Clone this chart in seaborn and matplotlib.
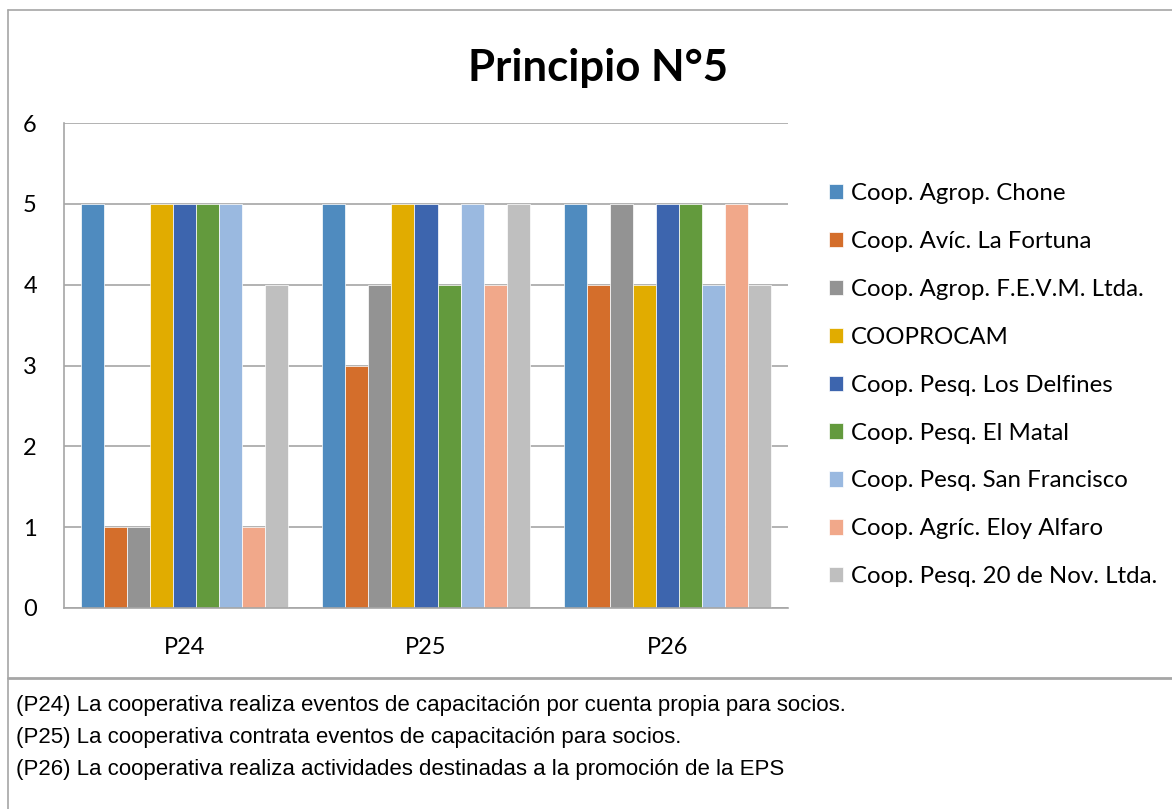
import matplotlib
matplotlib.use("Agg")
import matplotlib.pyplot as plt
import seaborn as sns
import pandas as pd
from matplotlib.lines import Line2D

categories = ["P24", "P25", "P26"]
series_names = [
    "Coop. Agrop. Chone",
    "Coop. Avíc. La Fortuna",
    "Coop. Agrop. F.E.V.M. Ltda.",
    "COOPROCAM",
    "Coop. Pesq. Los Delfines",
    "Coop. Pesq. El Matal",
    "Coop. Pesq. San Francisco",
    "Coop. Agríc. Eloy Alfaro",
    "Coop. Pesq. 20 de Nov. Ltda.",
]
chone = [5, 5, 5]
fortuna = [1, 3, 4]
fevm = [1, 4, 5]
cooprocam = [5, 5, 4]
delfines = [5, 5, 5]
matal = [5, 4, 5]
sanfrancisco = [5, 5, 4]
eloy = [1, 4, 5]
nov20 = [4, 5, 4]
series_values = [chone, fortuna, fevm, cooprocam, delfines, matal, sanfrancisco, eloy, nov20]
colors = ["#4F8BBF", "#D46E2B", "#939393", "#E1AC00", "#3D65AE",
          "#639A3D", "#9AB9E0", "#F1A88A", "#BFBFBF"]
y_ticks = [0, 1, 2, 3, 4, 5, 6]
title = "Principio N°5"
notes = [
    "(P24) La cooperativa realiza eventos de capacitación por cuenta propia para socios.",
    "(P25) La cooperativa contrata eventos de capacitación para socios.",
    "(P26) La cooperativa realiza actividades destinadas a la promoción de la EPS",
]

rows = []
for name, vals in zip(series_names, series_values):
    for c, v in zip(categories, vals):
        rows.append({"cat": c, "serie": name, "val": v})
df = pd.DataFrame(rows)

sns.set_theme(style="white")
plt.rcParams["font.family"] = ["Lato", "DejaVu Sans"]
plt.rcParams["text.color"] = "black"
plt.rcParams["xtick.color"] = "black"
plt.rcParams["ytick.color"] = "black"

W, H = 1172, 809
fig = plt.figure(figsize=(W / 100, H / 100), dpi=100)
ax = fig.add_axes([64 / W, 1 - 608 / H, (788 - 64) / W, (608 - 123) / H])

sns.barplot(data=df, x="cat", y="val", hue="serie", hue_order=series_names,
            order=categories, palette=colors, saturation=1, width=0.86, gap=0,
            edgecolor="white", linewidth=0.5, ax=ax, legend=True)

ax.set_ylim(0, 6)
ax.set_yticks(y_ticks)
ax.set_yticklabels([str(t) for t in y_ticks], fontsize=17)
ax.set_xlabel("")
ax.set_ylabel("")
ax.tick_params(axis="x", labelsize=17, length=0, pad=21, labelcolor="black")
ax.tick_params(axis="y", length=0, pad=19.5, labelcolor="black")
ax.yaxis.grid(True, color="#A6A6A6", linewidth=1.2)
ax.set_axisbelow(True)
for s in ["top", "right"]:
    ax.spines[s].set_visible(False)
for s in ["left", "bottom"]:
    ax.spines[s].set_color("#A6A6A6")
    ax.spines[s].set_linewidth(1.2)

handles, labels = ax.get_legend_handles_labels()
ax.legend(handles, labels, loc="upper left", bbox_to_anchor=(829 / W, 1 - 183 / H),
          bbox_transform=fig.transFigure, frameon=False, fontsize=17.3,
          handlelength=0.6, handleheight=0.6, handletextpad=0.3,
          labelspacing=1.12, borderaxespad=0, borderpad=0)

fig.text(598 / W, 1 - 68 / H, title, ha="center", va="center",
         fontsize=31.5, fontweight="bold", color="black")

lc = "#A6A6A6"
fig.add_artist(Line2D([8 / W, 1], [1 - 10 / H, 1 - 10 / H], color=lc, lw=1.2, transform=fig.transFigure))
fig.add_artist(Line2D([8 / W, 8 / W], [0, 1 - 10 / H], color=lc, lw=1.2, transform=fig.transFigure))
fig.add_artist(Line2D([8 / W, 1], [1 - 678 / H, 1 - 678 / H], color=lc, lw=2, transform=fig.transFigure))

for i, line in enumerate(notes):
    fig.text(16 / W, 1 - (706 + 31.5 * i) / H, line, ha="left", va="center", color="black",
             fontsize=16, family=["Liberation Sans Narrow", "Liberation Sans", "DejaVu Sans"])

fig.savefig("out.png", dpi=100)
